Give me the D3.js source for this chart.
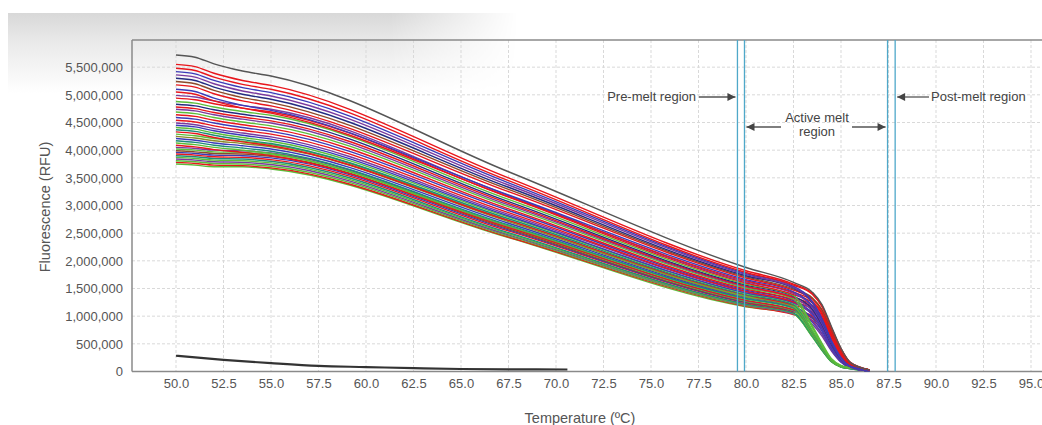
<!DOCTYPE html>
<html>
<head>
<meta charset="utf-8">
<script src="https://cdn.jsdelivr.net/npm/d3@7"></script>
<style>
  body { margin: 0; background: #fff; }
  svg text { font-family: "Liberation Sans", Arial, sans-serif; }
</style>
</head>
<body>
<svg id="chart" width="1042" height="425"></svg>
<script>
// melt curve readings, values in millions of RFU
var temps = [50, 51, 52, 53.5, 55, 67.5, 80, 82.5, 83.5, 84, 84.5, 85, 85.5, 86.5];

var curveColors = [
  "#555555", "#e8161c", "#e8161c", "#3b3bb8", "#7a3a9e", "#232c80", "#8b4a2b", "#e8161c", "#3b3bb8", "#e8161c",
  "#7a3a9e", "#e8161c", "#5cbd3a", "#232c80", "#e8161c", "#7a3a9e", "#5cbd3a", "#e8161c", "#3b3bb8", "#e8161c",
  "#7a3a9e", "#3b3bb8", "#5cbd3a", "#1f8a7a", "#e8161c", "#5cbd3a", "#8a8a2a", "#3b3bb8", "#1f8a7a", "#5cbd3a",
  "#e8161c", "#7a3a9e", "#5cbd3a", "#8b4a2b", "#3b3bb8", "#e8161c", "#1f8a7a", "#5cbd3a", "#7a3a9e", "#5cbd3a",
  "#e8161c", "#5cbd3a"
];

var curveValues = [
  [5.72, 5.68, 5.56, 5.43, 5.34, 3.61, 1.88, 1.61, 1.43, 1.21, 0.81, 0.42, 0.16, 0.03],
  [5.55, 5.51, 5.39, 5.26, 5.17, 3.50, 1.82, 1.58, 1.41, 1.19, 0.79, 0.41, 0.16, 0.03],
  [5.48, 5.44, 5.32, 5.19, 5.10, 3.45, 1.79, 1.56, 1.39, 1.17, 0.78, 0.41, 0.16, 0.03],
  [5.42, 5.38, 5.26, 5.13, 5.04, 3.41, 1.77, 1.54, 1.26, 0.95, 0.55, 0.25, 0.09, 0.02],
  [5.36, 5.32, 5.20, 5.07, 4.98, 3.37, 1.75, 1.52, 1.25, 0.94, 0.55, 0.24, 0.09, 0.02],
  [5.30, 5.26, 5.14, 5.01, 4.92, 3.33, 1.73, 1.51, 1.24, 0.94, 0.54, 0.24, 0.09, 0.02],
  [5.24, 5.20, 5.08, 4.95, 4.86, 3.29, 1.71, 1.49, 1.33, 1.12, 0.75, 0.39, 0.15, 0.03],
  [5.18, 5.14, 5.02, 4.89, 4.80, 3.25, 1.69, 1.47, 1.31, 1.10, 0.74, 0.38, 0.15, 0.03],
  [5.10, 5.06, 4.94, 4.81, 4.72, 3.19, 1.66, 1.44, 1.18, 0.89, 0.52, 0.23, 0.09, 0.01],
  [5.05, 5.01, 4.89, 4.76, 4.67, 3.16, 1.64, 1.43, 1.27, 1.07, 0.72, 0.37, 0.14, 0.03],
  [4.99, 4.96, 4.89, 4.81, 4.74, 3.18, 1.62, 1.41, 1.16, 0.87, 0.51, 0.23, 0.08, 0.01],
  [4.94, 4.91, 4.84, 4.76, 4.69, 3.15, 1.60, 1.39, 1.24, 1.04, 0.70, 0.36, 0.14, 0.03],
  [4.88, 4.85, 4.78, 4.70, 4.63, 3.11, 1.58, 1.37, 0.82, 0.51, 0.23, 0.11, 0.07, 0.01],
  [4.83, 4.80, 4.73, 4.65, 4.58, 3.07, 1.56, 1.36, 1.12, 0.84, 0.49, 0.22, 0.08, 0.01],
  [4.78, 4.75, 4.68, 4.60, 4.53, 3.04, 1.54, 1.34, 1.19, 1.01, 0.67, 0.35, 0.13, 0.03],
  [4.74, 4.71, 4.64, 4.56, 4.49, 3.01, 1.53, 1.33, 1.09, 0.82, 0.48, 0.21, 0.08, 0.01],
  [4.69, 4.66, 4.59, 4.51, 4.44, 2.98, 1.51, 1.31, 0.79, 0.48, 0.22, 0.10, 0.07, 0.01],
  [4.64, 4.61, 4.54, 4.46, 4.39, 2.94, 1.49, 1.30, 1.16, 0.98, 0.65, 0.34, 0.13, 0.03],
  [4.59, 4.56, 4.49, 4.41, 4.34, 2.91, 1.47, 1.28, 1.05, 0.79, 0.46, 0.20, 0.08, 0.01],
  [4.54, 4.51, 4.44, 4.36, 4.29, 2.87, 1.45, 1.26, 1.12, 0.95, 0.63, 0.33, 0.13, 0.03],
  [4.49, 4.46, 4.39, 4.31, 4.24, 2.84, 1.44, 1.25, 1.03, 0.78, 0.45, 0.20, 0.08, 0.01],
  [4.45, 4.42, 4.35, 4.27, 4.20, 2.81, 1.42, 1.24, 1.02, 0.77, 0.45, 0.20, 0.07, 0.01],
  [4.41, 4.38, 4.31, 4.23, 4.16, 2.79, 1.41, 1.23, 0.74, 0.46, 0.21, 0.10, 0.06, 0.01],
  [4.37, 4.34, 4.27, 4.19, 4.12, 2.76, 1.39, 1.21, 0.73, 0.45, 0.21, 0.10, 0.06, 0.01],
  [4.33, 4.30, 4.23, 4.15, 4.08, 2.73, 1.38, 1.20, 1.07, 0.90, 0.60, 0.31, 0.12, 0.02],
  [4.29, 4.26, 4.21, 4.16, 4.10, 2.73, 1.36, 1.18, 0.71, 0.44, 0.20, 0.09, 0.06, 0.01],
  [4.25, 4.22, 4.17, 4.12, 4.06, 2.71, 1.35, 1.17, 0.70, 0.43, 0.20, 0.09, 0.06, 0.01],
  [4.21, 4.18, 4.13, 4.08, 4.02, 2.68, 1.34, 1.17, 0.96, 0.73, 0.42, 0.19, 0.07, 0.01],
  [4.17, 4.14, 4.09, 4.04, 3.98, 2.65, 1.32, 1.15, 0.69, 0.43, 0.20, 0.09, 0.06, 0.01],
  [4.13, 4.10, 4.05, 4.00, 3.94, 2.63, 1.31, 1.14, 0.68, 0.42, 0.19, 0.09, 0.06, 0.01],
  [4.09, 4.06, 4.01, 3.96, 3.90, 2.60, 1.29, 1.12, 1.00, 0.84, 0.56, 0.29, 0.11, 0.02],
  [4.05, 4.03, 4.00, 3.99, 3.95, 2.62, 1.28, 1.11, 0.91, 0.69, 0.40, 0.18, 0.07, 0.01],
  [4.02, 4.00, 3.97, 3.96, 3.92, 2.60, 1.27, 1.10, 0.66, 0.41, 0.19, 0.09, 0.06, 0.01],
  [3.99, 3.97, 3.94, 3.93, 3.89, 2.58, 1.26, 1.10, 0.98, 0.83, 0.55, 0.29, 0.11, 0.02],
  [3.96, 3.94, 3.91, 3.90, 3.86, 2.56, 1.25, 1.09, 0.89, 0.68, 0.39, 0.17, 0.07, 0.01],
  [3.93, 3.91, 3.88, 3.87, 3.83, 2.54, 1.24, 1.08, 0.96, 0.81, 0.54, 0.28, 0.11, 0.02],
  [3.90, 3.88, 3.85, 3.84, 3.80, 2.51, 1.22, 1.06, 0.64, 0.39, 0.18, 0.08, 0.05, 0.01],
  [3.87, 3.85, 3.82, 3.81, 3.77, 2.49, 1.21, 1.05, 0.63, 0.39, 0.18, 0.08, 0.05, 0.01],
  [3.84, 3.82, 3.79, 3.78, 3.74, 2.47, 1.20, 1.04, 0.85, 0.64, 0.37, 0.17, 0.06, 0.01],
  [3.81, 3.79, 3.76, 3.75, 3.71, 2.45, 1.19, 1.04, 0.62, 0.38, 0.18, 0.08, 0.05, 0.01],
  [3.78, 3.76, 3.73, 3.72, 3.68, 2.43, 1.18, 1.03, 0.92, 0.77, 0.52, 0.27, 0.10, 0.02],
  [3.75, 3.73, 3.70, 3.70, 3.66, 2.42, 1.17, 1.04, 0.63, 0.39, 0.17, 0.09, 0.06, 0.03]
];

// the low (no template) trace
var baseTemps = [50, 52.5, 55, 57.5, 60, 62.5, 65, 67.5, 70.6];
var baseValues = [0.285, 0.21, 0.15, 0.10, 0.08, 0.06, 0.045, 0.04, 0.036];

var xTicks = [50, 52.5, 55, 57.5, 60, 62.5, 65, 67.5, 70, 72.5, 75, 77.5, 80, 82.5, 85, 87.5, 90, 92.5, 95];
var yTicks = [0, 500000, 1000000, 1500000, 2000000, 2500000, 3000000, 3500000, 4000000, 4500000, 5000000, 5500000];

// region boundary lines (°C)
var regionBounds = [79.55, 79.92, 87.45, 87.85];

var svg = d3.select("#chart");
var plotL = 132, plotT = 40, plotB = 371.5, plotR = 1042;

var x = d3.scaleLinear().domain([50, 95]).range([176, 1031]);
var y = d3.scaleLinear().domain([0, 6000000]).range([plotB, 39.5]);

// grey shadow band at the top
var defs = svg.append("defs");
var vg = defs.append("linearGradient").attr("id", "bandV").attr("x1", 0).attr("y1", 0).attr("x2", 0).attr("y2", 1);
vg.append("stop").attr("offset", 0).attr("stop-color", "#d8d8d8");
vg.append("stop").attr("offset", 0.35).attr("stop-color", "#e9e9e9");
vg.append("stop").attr("offset", 1).attr("stop-color", "#ffffff");
var hg = defs.append("linearGradient").attr("id", "bandH").attr("x1", 0).attr("y1", 0).attr("x2", 1).attr("y2", 0);
hg.append("stop").attr("offset", 0).attr("stop-color", "#fff");
hg.append("stop").attr("offset", 0.75).attr("stop-color", "#fff");
hg.append("stop").attr("offset", 1).attr("stop-color", "#000");
defs.append("mask").attr("id", "bandMask").attr("maskUnits", "userSpaceOnUse")
  .attr("x", 0).attr("y", 0).attr("width", 1042).attr("height", 425)
  .append("rect").attr("x", 8).attr("y", 13).attr("width", 510).attr("height", 80).attr("fill", "url(#bandH)");
svg.append("rect")
  .attr("x", 8).attr("y", 13).attr("width", 510).attr("height", 80)
  .attr("fill", "url(#bandV)").attr("mask", "url(#bandMask)");

// grid
svg.append("g").selectAll("line").data(yTicks.slice(1)).join("line")
  .attr("x1", plotL).attr("x2", plotR)
  .attr("y1", d => y(d)).attr("y2", d => y(d))
  .attr("stroke", "#d9d9d9").attr("stroke-dasharray", "3,2");
svg.append("g").selectAll("line").data(xTicks).join("line")
  .attr("x1", d => x(d)).attr("x2", d => x(d))
  .attr("y1", plotT).attr("y2", plotB)
  .attr("stroke", "#d9d9d9").attr("stroke-dasharray", "3,2");

// axes
var yAxis = svg.append("g").attr("transform", "translate(" + plotL + ",0)")
  .call(d3.axisLeft(y).tickValues(yTicks).tickFormat(d3.format(",")).tickSize(0).tickPadding(9));
var xAxis = svg.append("g").attr("transform", "translate(0," + plotB + ")")
  .call(d3.axisBottom(x).tickValues(xTicks).tickFormat(d3.format(".1f")).tickSize(0).tickPadding(7));
[yAxis, xAxis].forEach(function(a) {
  a.select(".domain").remove();
  a.selectAll("text").attr("fill", "#555").style("font-size", "13px")
    .style("font-family", "'Liberation Sans', Arial, sans-serif");
});

// frame
svg.append("line").attr("x1", plotL).attr("x2", plotR).attr("y1", plotT).attr("y2", plotT)
  .attr("stroke", "#8a8a8a").attr("stroke-width", 1.5);
svg.append("line").attr("x1", plotL).attr("x2", plotL).attr("y1", plotT).attr("y2", plotB)
  .attr("stroke", "#8a8a8a").attr("stroke-width", 1.5);
svg.append("line").attr("x1", plotL).attr("x2", plotR).attr("y1", plotB).attr("y2", plotB)
  .attr("stroke", "#8a8a8a").attr("stroke-width", 1.5);

// curves
var line = d3.line()
  .x(function(d) { return x(d[0]); })
  .y(function(d) { return y(d[1] * 1e6); })
  .curve(d3.curveMonotoneX);

var curves = curveValues.map(function(vals, i) {
  return { color: curveColors[i], pts: vals.map(function(v, j) { return [temps[j], v]; }) };
});

svg.append("g").selectAll("path").data(curves.slice().reverse()).join("path")
  .attr("d", function(d) { return line(d.pts); })
  .attr("fill", "none")
  .attr("stroke", function(d) { return d.color; })
  .attr("stroke-width", 1.4);

svg.append("path")
  .attr("d", line(baseTemps.map(function(t, i) { return [t, baseValues[i]]; })))
  .attr("fill", "none").attr("stroke", "#333").attr("stroke-width", 2.2);

// region boundaries
svg.append("g").selectAll("line").data(regionBounds).join("line")
  .attr("x1", d => x(d)).attr("x2", d => x(d))
  .attr("y1", plotT).attr("y2", plotB)
  .attr("stroke", "#4fa8c9").attr("stroke-width", 1.3);

// annotations
defs.append("marker").attr("id", "arrow").attr("viewBox", "0 0 10 10")
  .attr("refX", 10).attr("refY", 5).attr("markerWidth", 10).attr("markerHeight", 8)
  .attr("markerUnits", "userSpaceOnUse").attr("orient", "auto")
  .append("path").attr("d", "M0,0L10,5L0,10z").attr("fill", "#444");

function arrow(x1, x2, yy) {
  svg.append("line").attr("x1", x1).attr("x2", x2).attr("y1", yy).attr("y2", yy)
    .attr("stroke", "#555").attr("stroke-width", 1.3).attr("marker-end", "url(#arrow)");
}
function label(txt, xx, yy, anchor) {
  svg.append("text").attr("x", xx).attr("y", yy).attr("text-anchor", anchor)
    .attr("fill", "#444").style("font-size", "13px").text(txt);
}

label("Pre-melt region", 696, 101, "end");
arrow(699, x(regionBounds[0]) - 2, 97);
label("Post-melt region", 931, 101, "start");
arrow(929, x(regionBounds[3]) + 2, 97);
label("Active melt", 817, 122, "middle");
label("region", 817, 136, "middle");
arrow(781, x(regionBounds[1]) + 2, 127);
arrow(852, x(regionBounds[2]) - 2, 127);

// axis titles
svg.append("text").attr("transform", "translate(50,207) rotate(-90)")
  .attr("text-anchor", "middle").attr("fill", "#555").style("font-size", "14.5px")
  .text("Fluorescence (RFU)");
svg.append("text").attr("x", 580).attr("y", 423)
  .attr("text-anchor", "middle").attr("fill", "#555").style("font-size", "14.5px")
  .text("Temperature (ºC)");
</script>
</body>
</html>
